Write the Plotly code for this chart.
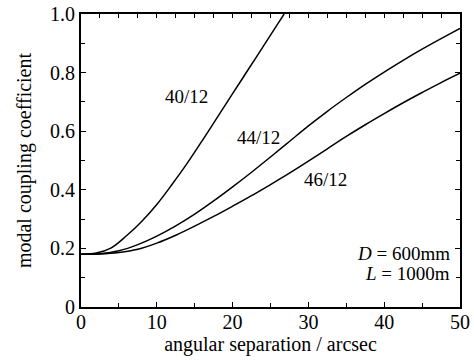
import plotly.graph_objects as go

# Data
x_40 = [0, 2, 4, 6, 8, 10, 12, 14, 16, 18, 20, 22, 24, 26, 26.8]
y_40 = [0.18, 0.184, 0.202, 0.243, 0.292, 0.35, 0.418, 0.49, 0.568, 0.648, 0.728, 0.808, 0.888, 0.968, 1.0]

x_44 = [0, 2.5, 5, 7.5, 10, 12.5, 15, 17.5, 20, 22.5, 25, 27.5, 30, 32.5, 35, 37.5, 40, 42.5, 45, 47.5, 50]
y_44 = [0.18, 0.182, 0.192, 0.213, 0.242, 0.277, 0.317, 0.362, 0.41, 0.46, 0.512, 0.565, 0.618, 0.668,
        0.715, 0.76, 0.802, 0.842, 0.88, 0.916, 0.951]

x_46 = [0, 2.5, 5, 7.5, 10, 12.5, 15, 17.5, 20, 22.5, 25, 27.5, 30, 32.5, 35, 37.5, 40, 42.5, 45, 47.5, 50]
y_46 = [0.18, 0.181, 0.186, 0.197, 0.218, 0.245, 0.276, 0.309, 0.344, 0.38, 0.418, 0.457, 0.498, 0.54,
        0.582, 0.622, 0.66, 0.697, 0.732, 0.766, 0.798]

curve_labels = ["40/12", "44/12", "46/12"]
label_x = [13.9, 23.4, 32.3]
label_y = [0.717, 0.58, 0.436]

x_ticks = [0, 10, 20, 30, 40, 50]
y_ticks = [0, 0.2, 0.4, 0.6, 0.8, 1.0]
y_tick_text = ["0", "0.2", "0.4", "0.6", "0.8", "1.0"]

FONT = "Liberation Serif, Times New Roman, serif"
FS_TICK = 20
FS_TITLE = 20
FS_LABEL = 19

fig = go.Figure()
for xs, ys in [(x_40, y_40), (x_44, y_44), (x_46, y_46)]:
    fig.add_trace(go.Scatter(x=xs, y=ys, mode="lines",
                             line=dict(color="black", width=1.5, shape="spline", smoothing=1.0),
                             showlegend=False, hoverinfo="skip"))

# invisible trace for the top axis
fig.add_trace(go.Scatter(x=[0, 50], y=[0, 0], xaxis="x2", mode="lines",
                         line=dict(width=0), showlegend=False, hoverinfo="skip"))

for t, lx, ly in zip(curve_labels, label_x, label_y):
    fig.add_annotation(x=lx, y=ly, text=t, showarrow=False,
                       font=dict(family=FONT, size=FS_LABEL, color="black"))

fig.add_annotation(x=48.9, y=0.184, text="<i>D</i> = 600mm", showarrow=False, xanchor="right",
                   font=dict(family=FONT, size=FS_LABEL, color="black"))
fig.add_annotation(x=48.9, y=0.116, text="<i>L</i> = 1000m", showarrow=False, xanchor="right",
                   font=dict(family=FONT, size=FS_LABEL, color="black"))

fig.update_layout(
    width=474, height=362,
    margin=dict(l=81, r=14, t=14, b=55),
    plot_bgcolor="white", paper_bgcolor="white",
    font=dict(family=FONT, size=FS_TICK, color="black"),
    xaxis=dict(range=[0, 50], tickmode="array", tickvals=x_ticks, automargin=False,
               ticks="inside", ticklen=5, tickwidth=1, tickcolor="black",
               minor=dict(dtick=5, ticks="inside", ticklen=4, tickcolor="black"),
               showline=True, linecolor="black", linewidth=2, mirror=False,
               showgrid=False, zeroline=False, ticklabelstandoff=-4,
               tickfont=dict(family=FONT, size=FS_TICK),
               title=dict(text="angular separation / arcsec", standoff=1,
                          font=dict(family=FONT, size=FS_TITLE))),
    xaxis2=dict(range=[0, 50], overlaying="x", side="top", showticklabels=False,
                automargin=False,
                tickmode="linear", tick0=0, dtick=2.5, ticks="inside", ticklen=4,
                tickcolor="black", showline=True, linecolor="black", linewidth=2,
                showgrid=False, zeroline=False),
    yaxis=dict(range=[0, 1.0], tickmode="array", tickvals=y_ticks, ticktext=y_tick_text,
               automargin=False, ticklabeloverflow="allow",
               ticks="inside", ticklen=5, tickwidth=1, tickcolor="black",
               minor=dict(dtick=0.1, ticks="inside", ticklen=4, tickcolor="black"),
               showline=True, linecolor="black", linewidth=2, mirror="ticks",
               showgrid=False, zeroline=False, ticklabelstandoff=0,
               tickfont=dict(family=FONT, size=FS_TICK),
               title=dict(text="modal coupling coefficient", standoff=13,
                          font=dict(family=FONT, size=FS_TITLE))),
)

fig.write_html("out.html", config={"displayModeBar": False},
               post_script="document.body.style.margin='0px';")
